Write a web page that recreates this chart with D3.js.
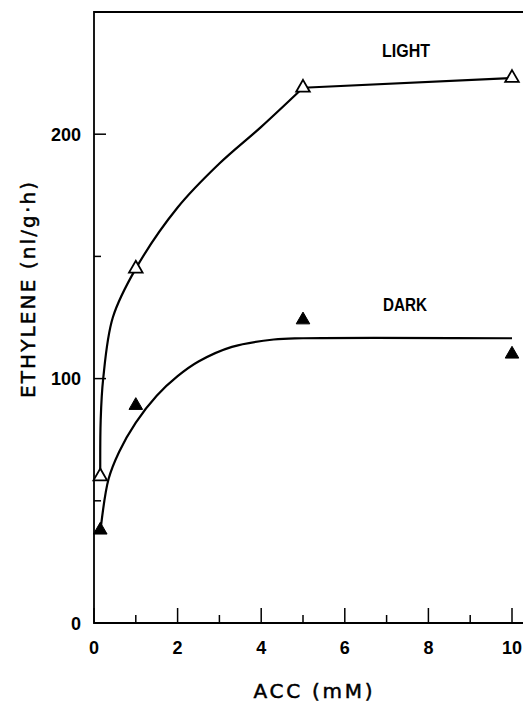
<!DOCTYPE html>
<html>
<head>
<meta charset="utf-8">
<script src="https://cdn.jsdelivr.net/npm/d3@7"></script>
<style>
  body { margin: 0; background: #fff; }
  svg { display: block; }
  text { font-family: "Liberation Sans", Arial, sans-serif; fill: #000; }
  .title { font-family: "DejaVu Sans", sans-serif; stroke: #000; stroke-width: 0.5px; }
</style>
</head>
<body>
<div id="app"></div>
<script>
'use strict';

// measured points
var lightX = [0.15, 1, 5, 10];
var lightY = [60, 145, 219, 223];
var darkX = [0.15, 1, 5, 10];
var darkY = [38, 89, 124, 110];

// hand-drawn fit curves
var lightFitX = [0.15, 0.16, 0.22, 0.45, 1, 2, 3, 4, 5];
var lightFitY = [60, 83, 100, 125, 145, 170, 188, 203, 219];
var lightTailX = [5, 10];
var lightTailY = [219, 223];
var darkFitX = [0.17, 0.35, 0.6, 1, 1.5, 2, 2.5, 3.3, 4.3, 5, 10];
var darkFitY = [40, 59, 70, 82, 93, 101, 107, 113, 116, 116.5, 116.5];

var xMajor = [0, 2, 4, 6, 8, 10];
var xMinor = [1, 3, 5, 7, 9];
var yMajor = [0, 100, 200];
var yMinor = [50, 150];

var W = 523, H = 705;

var svg = d3.select('#app').append('svg').attr('width', W).attr('height', H);

var x = d3.scaleLinear().domain([0, 10]).range([94, 512]);
var y = d3.scaleLinear().domain([0, 250]).range([623, 12]);

var zip = function(xs, ys) {
  return xs.map(function(v, i) { return [v, ys[i]]; });
};

// frame: left axis, top line, bottom axis (runs past the edge)
svg.append('path')
  .attr('d', 'M' + W + ',' + y(250) + 'H' + x(0) + 'V' + y(0) + 'H' + W)
  .attr('fill', 'none').attr('stroke', '#000').attr('stroke-width', 1.8);

// x ticks pointing up
var xAxis = svg.append('g');
xAxis.selectAll('.maj').data(xMajor).enter().append('line')
  .attr('x1', x).attr('x2', x).attr('y1', y(0)).attr('y2', y(0) - 15)
  .attr('stroke', '#000').attr('stroke-width', 1.5);
xAxis.selectAll('.min').data(xMinor).enter().append('line')
  .attr('x1', x).attr('x2', x).attr('y1', y(0)).attr('y2', y(0) - 8)
  .attr('stroke', '#000').attr('stroke-width', 1.5);
xAxis.selectAll('text').data(xMajor).enter().append('text')
  .attr('x', x).attr('y', 654).attr('text-anchor', 'middle')
  .style('font-size', '18px').style('font-weight', 'bold')
  .text(function(d) { return d; });

// y ticks pointing right
var yAxis = svg.append('g');
yAxis.selectAll('.maj').data(yMajor.slice(1)).enter().append('line')
  .attr('x1', x(0)).attr('x2', x(0) + 12).attr('y1', y).attr('y2', y)
  .attr('stroke', '#000').attr('stroke-width', 1.5);
yAxis.selectAll('.min').data(yMinor).enter().append('line')
  .attr('x1', x(0)).attr('x2', x(0) + 7).attr('y1', y).attr('y2', y)
  .attr('stroke', '#000').attr('stroke-width', 1.5);
yAxis.selectAll('text').data(yMajor).enter().append('text')
  .attr('x', 81).attr('y', function(d) { return y(d) + 6.5; })
  .attr('text-anchor', 'end')
  .style('font-size', '18px').style('font-weight', 'bold')
  .text(function(d) { return d; });

// axis titles
svg.append('text').attr('class', 'title')
  .attr('x', 313).attr('y', 698).attr('text-anchor', 'middle')
  .attr('textLength', 119).attr('lengthAdjust', 'spacing')
  .style('font-size', '20px')
  .text('ACC (mM)');

svg.append('text').attr('class', 'title')
  .attr('transform', 'translate(35,290) rotate(-90)')
  .attr('text-anchor', 'middle')
  .attr('textLength', 216).attr('lengthAdjust', 'spacing')
  .style('font-size', '20px')
  .text('ETHYLENE (nl/g\u00b7h)');

// curves
var smooth = d3.line()
  .x(function(d) { return x(d[0]); })
  .y(function(d) { return y(d[1]); })
  .curve(d3.curveCatmullRom.alpha(0.5));
var straight = d3.line()
  .x(function(d) { return x(d[0]); })
  .y(function(d) { return y(d[1]); });

svg.append('path').datum(zip(lightFitX, lightFitY))
  .attr('d', smooth).attr('fill', 'none').attr('stroke', '#000').attr('stroke-width', 2.2);
svg.append('path').datum(zip(lightTailX, lightTailY))
  .attr('d', straight).attr('fill', 'none').attr('stroke', '#000').attr('stroke-width', 2.2);
svg.append('path').datum(zip(darkFitX, darkFitY))
  .attr('d', smooth).attr('fill', 'none').attr('stroke', '#000').attr('stroke-width', 2.2);

// markers
var tri = d3.symbol().type(d3.symbolTriangle).size(80);

svg.selectAll('.light').data(zip(lightX, lightY)).enter().append('path')
  .attr('class', 'light')
  .attr('transform', function(d) { return 'translate(' + x(d[0]) + ',' + y(d[1]) + ')'; })
  .attr('d', tri).attr('fill', '#fff').attr('stroke', '#000').attr('stroke-width', 1.8);

svg.selectAll('.dark').data(zip(darkX, darkY)).enter().append('path')
  .attr('class', 'dark')
  .attr('transform', function(d) { return 'translate(' + x(d[0]) + ',' + y(d[1]) + ')'; })
  .attr('d', tri).attr('fill', '#000').attr('stroke', '#000').attr('stroke-width', 1);

// series labels
svg.append('text')
  .attr('x', 382).attr('y', 56.7)
  .attr('textLength', 48).attr('lengthAdjust', 'spacingAndGlyphs')
  .style('font-size', '18px').style('font-weight', 'bold')
  .text('LIGHT');

svg.append('text')
  .attr('x', 383).attr('y', 310.7)
  .attr('textLength', 44).attr('lengthAdjust', 'spacingAndGlyphs')
  .style('font-size', '18px').style('font-weight', 'bold')
  .text('DARK');
</script>
</body>
</html>
